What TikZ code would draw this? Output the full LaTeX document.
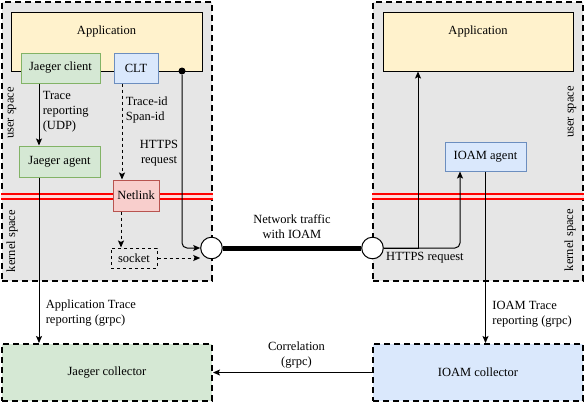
\documentclass[tikz,border=0pt]{standalone}
\usepackage{fontspec}
\setmainfont{Liberation Serif}
\newfontfamily\diagfont{Liberation Serif}
\usetikzlibrary{positioning, arrows.meta}
\definecolor{zonefill}{HTML}{E6E6E6}
\definecolor{appfill}{HTML}{FFF2CC}
\definecolor{greenfill}{HTML}{D5E8D4}
\definecolor{greenline}{HTML}{82B366}
\definecolor{bluefill}{HTML}{DAE8FC}
\definecolor{blueline}{HTML}{6C8EBF}
\definecolor{redfill}{HTML}{F8CECC}
\definecolor{redline}{HTML}{B85450}
\tikzset{
  every node/.style={text=black, font=\diagfont\fontsize{12.5}{15}\selectfont, line width=1pt},
  zone/.style={draw=black, fill=zonefill, line width=2pt, dash pattern=on 6pt off 4pt, minimum width=210pt, minimum height=279pt},
  appbox/.style={draw=black, fill=appfill, minimum width=191pt, minimum height=59pt},
  greenbox/.style={draw=greenline, fill=greenfill, minimum height=30pt},
  bluebox/.style={draw=blueline, fill=bluefill, minimum height=30pt},
  redbox/.style={draw=redline, fill=redfill, minimum height=31pt},
  sockbox/.style={draw=black, dash pattern=on 3pt off 3pt, minimum width=46pt, minimum height=20pt},
  port/.style={circle, draw=black, fill=white, minimum size=21.6pt, inner sep=0pt},
  junction/.style={circle, fill=black, minimum size=7pt, inner sep=0pt},
  boundary/.style={draw=red, line width=2pt, double=red!15, double distance=3pt},
  space/.style={rotate=90}
}

\begin{document}
\begin{tikzpicture}[x=1pt, y=-1pt, >={Stealth[length=7pt, width=6pt, inset=1.5pt]}, line width=1pt]
  \useasboundingbox (0,0) rectangle (586,402);
  % Zones
  \node (host) [zone] at (107,141.5) {};
  \node (server) [zone] at (478,141.5) {};
  \draw[boundary] (host.west |- 0,196.5) -- (host.east |- 0,196.5);
  \draw[boundary] (server.west |- 0,196.5) -- (server.east |- 0,196.5);
  \node (hostuser) [space] at (12,113) {user space};
  \node (hostkernel) [space] at (12,241) {kernel space};
  \node (serveruser) [space] at (572,112) {user space};
  \node (serverkernel) [space] at (570,240) {kernel space};

  % Nodes
  \node (app) [appbox, label={[anchor=center, yshift=-20pt]north:Application}] at (106.5,41.5) {};
  \node (jclient) [greenbox, minimum width=79pt] at (60.5,68) {Jaeger client};
  \node (clt) [bluebox, minimum width=44pt, right=13pt of jclient] {CLT};
  \node (junction) [junction] at (182,71) {};
  \node (jagent) [greenbox, minimum width=81pt, minimum height=31pt] at (59.5,161.5) {Jaeger agent};
  \node (netlink) [redbox, minimum width=46pt] at (136,195.5) {Netlink};
  \node (socket) [sockbox, below=36pt of netlink, xshift=-2pt] {socket};
  \node (egress) [port] at (211.5,248) {};
  \node (ingress) [port] at (372.5,248) {};
  \node (serverapp) [appbox, minimum width=190pt, label={[anchor=center, yshift=-20pt]north:Application}] at (478,41.5) {};
  \node (ioamagent) [bluebox, minimum width=81pt, minimum height=29pt] at (485.5,156.5) {IOAM agent};
  \node (jcollector) [zone, fill=greenfill, minimum height=57pt, below=61pt of host] {Jaeger collector};
  \node (ioamcollector) [zone, fill=bluefill, minimum height=57pt, below=61pt of server] {IOAM collector};

  \draw[->] ([xshift=-21.5pt]jclient.south) -- ([xshift=-21.5pt]jclient.south |- jagent.north) node[pos=0.45, right, align=left] {Trace\\reporting\\(UDP)};
  \draw[->] ([xshift=-20.5pt]jagent.south) -- ([xshift=-20.5pt]jagent.south |- jcollector.north) node[pos=0.82, right, xshift=3pt, align=left] {Application Trace\\reporting (grpc)};
  \draw[->, dash pattern=on 3pt off 3pt] ([xshift=-14pt]clt.south) -- ([xshift=-14pt]clt.south |- netlink.north) node[pos=0.28, right, align=left] {Trace-id\\Span-id};
  \draw[->, dash pattern=on 3pt off 3pt] ([xshift=-15pt]netlink.south) -- ([xshift=-15pt]netlink.south |- socket.north);
  \draw[->, dash pattern=on 3pt off 3pt] (socket.east) -- (socket.east -| egress.west);
  \draw[->, rounded corners=5pt] (junction) |- (egress.west) node[pos=0.225, left, align=center] {HTTPS\\request};
  \draw[line width=5pt] (egress.east) -- (ingress.west) node[midway, above=6pt, align=center] {Network traffic\\with IOAM};
  \draw[->] (ingress.east) -| ([xshift=-60pt]serverapp.south);
  \draw[->, rounded corners=5pt] (ingress.east) -| ([xshift=-25.5pt]ioamagent.south) node[pos=0.27, below] {HTTPS request};
  \draw[->] (ioamagent.south) -- (ioamagent.south |- ioamcollector.north) node[pos=0.83, right, xshift=3pt, align=left] {IOAM Trace\\reporting (grpc)};
  \draw[->] (ioamcollector.west) -- (jcollector.east) node[midway, above, xshift=4pt, align=center] {Correlation\\(grpc)};
\end{tikzpicture}
\end{document}
